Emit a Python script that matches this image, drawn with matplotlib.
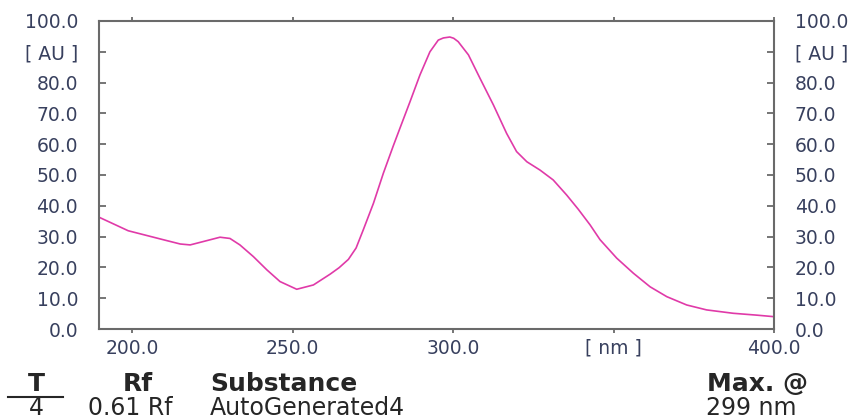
import matplotlib.pyplot as plt

# spectrum (wavelength in nm, absorbance in AU)
wavelength = [189.7, 198.8, 209.3, 215.0, 218.1, 222.2, 227.4, 230.5, 233.6, 237.8,
              242.0, 246.1, 251.3, 256.5, 261.7, 264.5, 267.4, 269.8, 272.0, 275.2,
              278.3, 281.4, 283.5, 286.6, 289.7, 292.8, 295.4, 297.0, 299.0, 300.2,
              301.6, 304.8, 308.4, 312.6, 316.7, 319.8, 323.0, 327.1, 331.2, 335.4,
              339.0, 342.7, 345.8, 351.0, 356.2, 361.4, 366.6, 372.8, 379.0, 387.3,
              394.6, 400.0]
absorbance = [36.3, 31.9, 29.1, 27.6, 27.3, 28.4, 29.8, 29.4, 27.3, 23.5,
              19.2, 15.4, 12.9, 14.3, 17.8, 19.9, 22.6, 26.3, 32.1, 40.8,
              50.6, 59.5, 65.3, 73.8, 82.5, 90.0, 93.8, 94.5, 94.8, 94.4,
              93.3, 89.0, 81.4, 72.7, 63.5, 57.6, 54.3, 51.6, 48.4, 43.5,
              38.9, 33.8, 29.0, 23.0, 18.1, 13.7, 10.5, 7.8, 6.2, 5.1,
              4.5, 4.0]

x_ticks = [200, 250, 300, 350, 400]
x_labels = ["200.0", "250.0", "300.0", "[ nm ]", "400.0"]
y_ticks = [0, 10, 20, 30, 40, 50, 60, 70, 80, 90, 100]
y_labels = ["0.0", "10.0", "20.0", "30.0", "40.0", "50.0", "60.0", "70.0", "80.0", "[ AU ]", "100.0"]

header = ["T", "Rf", "Substance", "Max. @"]
row = ["4", "0.61 Rf", "AutoGenerated4", "299 nm"]

plt.rcParams['font.family'] = ['DejaVu Sans']
spine_col = "#6a6a6a"
tick_col = "#38405e"
text_col = "#262626"

fig = plt.figure(figsize=(8.54, 4.19), dpi=100)
ax = fig.add_axes([99 / 854, 90 / 419, 675 / 854, 308 / 419])
ax.plot(wavelength, absorbance, color="#e03aa8", lw=1.2)

ax.set_xlim(189.7, 400)
ax.set_ylim(0, 100)
ax.set_xticks(x_ticks)
ax.set_xticklabels(x_labels)
ax.set_yticks(y_ticks)
ax.set_yticklabels(y_labels)

for s in ax.spines.values():
    s.set_color(spine_col)
    s.set_linewidth(1.5)

ax.tick_params(axis="y", which="both", left=True, right=True, labelleft=True, labelright=True,
               direction="out", length=5, width=1.3, color=spine_col,
               labelsize=13.5, labelcolor=tick_col, pad=9)
ax.tick_params(axis="y", right=True, direction="in", pad=15)
ax.tick_params(axis="x", bottom=True, top=True, direction="out", length=3, width=1.3,
               color=spine_col, labelsize=13.5, labelcolor=tick_col, pad=4)

# table below the chart
head_y = 1 - 391 / 419
row_y = 1 - 415 / 419
fig.text(36 / 854, head_y, header[0], ha="center", va="baseline",
         fontsize=18, fontweight="bold", color=text_col)
fig.text(123 / 854, head_y, header[1], ha="left", va="baseline",
         fontsize=18, fontweight="bold", color=text_col)
fig.text(210 / 854, head_y, header[2], ha="left", va="baseline",
         fontsize=18, fontweight="bold", color=text_col)
fig.text(707 / 854, head_y, header[3], ha="left", va="baseline",
         fontsize=18, fontweight="bold", color=text_col)
fig.add_artist(plt.Line2D([8 / 854, 63 / 854], [1 - 397 / 419, 1 - 397 / 419],
                          color=text_col, lw=1.5))

fig.text(36 / 854, row_y, row[0], ha="center", va="baseline",
         fontsize=17, color=text_col)
fig.text(88 / 854, row_y, row[1], ha="left", va="baseline",
         fontsize=17, color=text_col)
fig.text(210 / 854, row_y, row[2], ha="left", va="baseline",
         fontsize=17, color=text_col)
fig.text(706 / 854, row_y, row[3], ha="left", va="baseline",
         fontsize=17, color=text_col)

fig.savefig("out.png", dpi=100)
